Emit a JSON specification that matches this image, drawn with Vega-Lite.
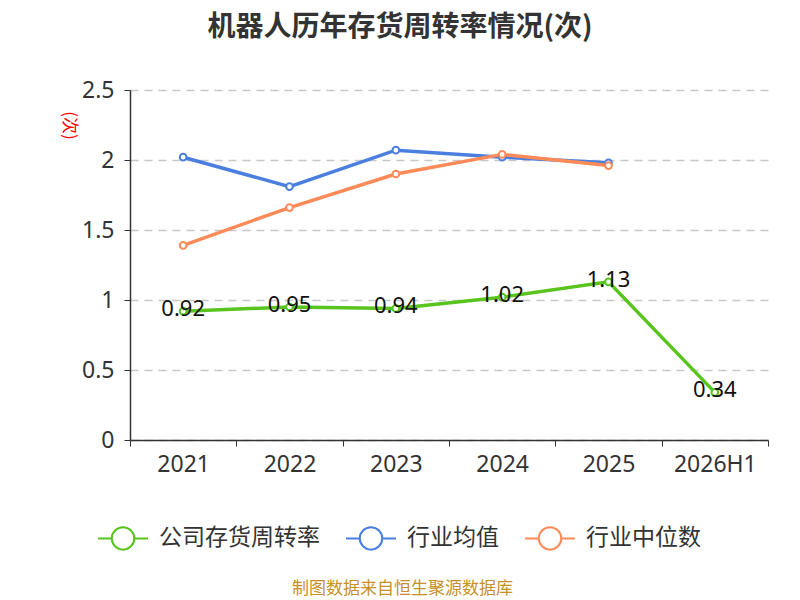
{
  "$schema": "https://vega.github.io/schema/vega-lite/v6.json",
  "width": 638,
  "height": 350,
  "autosize": {"type": "none"},
  "padding": {"top": 90, "left": 130, "right": 32, "bottom": 160},
  "background": "white",
  "title": {
    "text": "机器人历年存货周转率情况(次)",
    "fontSize": 28,
    "fontWeight": "bold",
    "font": "Noto Sans CJK SC",
    "color": "#333333",
    "anchor": "middle",
    "dx": -49,
    "baseline": "alphabetic",
    "offset": 15
  },
  "config": {
    "font": "Noto Sans CJK SC",
    "view": {"stroke": null}
  },
  "data": {
    "values": [
      {"year": "2021", "series": "公司存货周转率", "value": 0.92},
      {"year": "2022", "series": "公司存货周转率", "value": 0.95},
      {"year": "2023", "series": "公司存货周转率", "value": 0.94},
      {"year": "2024", "series": "公司存货周转率", "value": 1.02},
      {"year": "2025", "series": "公司存货周转率", "value": 1.13},
      {"year": "2026H1", "series": "公司存货周转率", "value": 0.34},
      {"year": "2021", "series": "行业均值", "value": 2.02},
      {"year": "2022", "series": "行业均值", "value": 1.81},
      {"year": "2023", "series": "行业均值", "value": 2.07},
      {"year": "2024", "series": "行业均值", "value": 2.02},
      {"year": "2025", "series": "行业均值", "value": 1.98},
      {"year": "2021", "series": "行业中位数", "value": 1.39},
      {"year": "2022", "series": "行业中位数", "value": 1.66},
      {"year": "2023", "series": "行业中位数", "value": 1.9},
      {"year": "2024", "series": "行业中位数", "value": 2.04},
      {"year": "2025", "series": "行业中位数", "value": 1.96}
    ]
  },
  "encoding": {
    "x": {
      "field": "year",
      "type": "ordinal",
      "sort": null,
      "scale": {"type": "band", "paddingInner": 0, "paddingOuter": 0},
      "axis": {
        "title": "制图数据来自恒生聚源数据库",
        "titleFontSize": 17,
        "titleFontWeight": "normal",
        "titleColor": "#c8902a",
        "titleX": 272,
        "titleY": 148,
        "titleBaseline": "middle",
        "labelAngle": 0,
        "labelFontSize": 23,
        "labelColor": "#333333",
        "labelPadding": 7,
        "labelFont": "Noto Sans",
        "tickBand": "extent",
        "tickSize": 6,
        "tickColor": "#333333",
        "domainColor": "#333333",
        "domainWidth": 1.5,
        "grid": false
      }
    },
    "y": {
      "field": "value",
      "type": "quantitative",
      "scale": {"domain": [0, 2.5], "nice": false},
      "axis": {
        "title": "(次)",
        "titleColor": "red",
        "titleFontSize": 17,
        "titleFontWeight": "normal",
        "titleX": -62,
        "titleY": 35,
        "titleAngle": 90,
        "titleAlign": "center",
        "titleBaseline": "middle",
        "values": [0, 0.5, 1, 1.5, 2, 2.5],
        "format": "",
        "labelFontSize": 23,
        "labelFont": "Noto Sans",
        "labelColor": "#333333",
        "labelPadding": 10,
        "tickSize": 6,
        "tickColor": "#333333",
        "domainColor": "#333333",
        "domainWidth": 1.5,
        "gridColor": "#c8c8c8",
        "gridDash": [8, 6],
        "gridWidth": 1.5
      }
    },
    "color": {
      "field": "series",
      "type": "nominal",
      "scale": {
        "domain": ["公司存货周转率", "行业均值", "行业中位数"],
        "range": ["#5ac41e", "#4a7fe0", "#fe8a58"]
      },
      "legend": {
        "title": null,
        "orient": "none",
        "direction": "horizontal",
        "legendX": -33,
        "legendY": 422,
        "symbolType": "M-1,0L-0.45,0M0.45,0L1,0M-0.45,0A0.45,0.45,0,1,1,0.45,0A0.45,0.45,0,1,1,-0.45,0",
        "symbolSize": 2500,
        "symbolStrokeWidth": 2,
        "symbolFillColor": "white",
        "labelFontSize": 23,
        "labelColor": "#333333",
        "labelOffset": 10,
        "columnPadding": 22,
        "labelLimit": 300
      }
    }
  },
  "layer": [
    {
      "mark": {"type": "line", "strokeWidth": 3.5},
      "encoding": {"detail": {"field": "series"}}
    },
    {
      "mark": {"type": "point", "shape": "circle", "filled": false, "fill": "white", "size": 45, "strokeWidth": 2, "opacity": 1}
    },
    {
      "transform": [{"filter": "datum.series === '公司存货周转率'"}],
      "mark": {"type": "text", "fontSize": 22, "font": "Noto Sans", "color": "#111111", "dy": -2, "baseline": "middle", "align": "center"},
      "encoding": {
        "text": {"field": "value", "type": "quantitative", "format": ".2f"},
        "color": {"value": "#111111"}
      }
    }
  ]
}
